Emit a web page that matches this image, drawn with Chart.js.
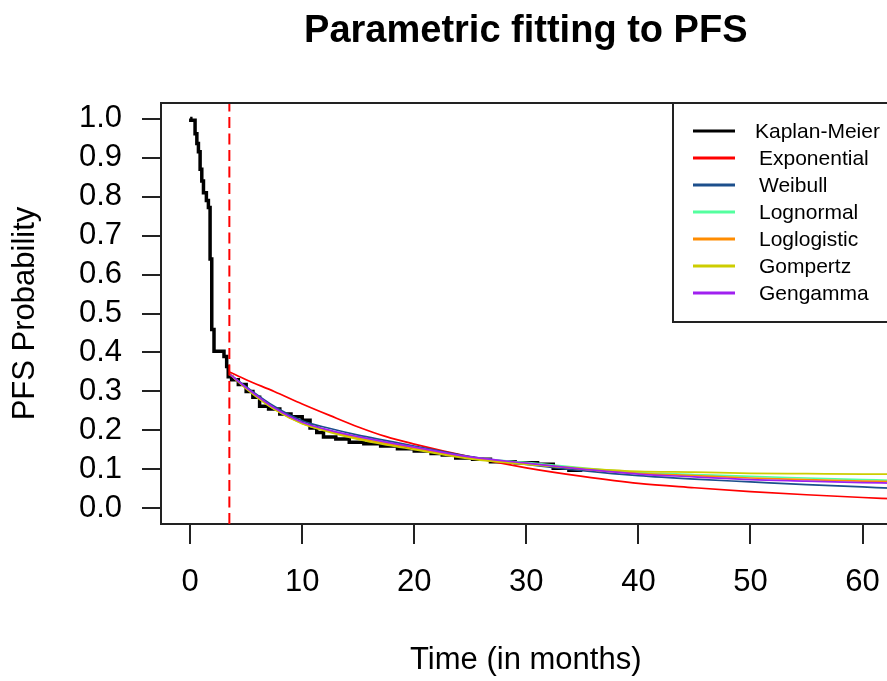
<!DOCTYPE html>
<html>
<head>
<meta charset="utf-8">
<script src="https://cdn.jsdelivr.net/npm/chart.js@4.4.1/dist/chart.umd.min.js"></script>
<style>
  html, body { margin: 0; padding: 0; background: #fff; overflow: hidden; }
  #wrap { width: 887px; height: 681px; overflow: hidden; }
</style>
</head>
<body>
<div id="wrap"><canvas id="myChart" width="900" height="681"></canvas></div>
<script>
// Kaplan-Meier steps (time in months, survival)
const kmTime = [0, 0.06, 0.44, 0.6, 0.74, 0.89, 1.04, 1.19, 1.45, 1.63, 1.78, 1.93, 2.13, 3.02, 3.26, 3.4,
  3.7, 4.3, 5.0, 5.6, 6.2, 7.0, 8.0, 9.0, 10.0, 10.7, 11.3, 11.9, 13.0, 14.2, 15.5, 17.0, 18.5, 20.0,
  21.5, 22.5, 23.7, 25.2, 26.8, 29.0, 31.0, 32.4, 33.8, 35.0];
const kmSurv = [1.0, 0.996, 0.961, 0.936, 0.915, 0.87, 0.84, 0.81, 0.79, 0.772, 0.64, 0.459, 0.403, 0.39, 0.364, 0.338,
  0.33, 0.318, 0.3, 0.285, 0.262, 0.255, 0.242, 0.235, 0.226, 0.206, 0.195, 0.183, 0.178, 0.17, 0.166, 0.16, 0.153, 0.147,
  0.141, 0.137, 0.129, 0.126, 0.12, 0.117, 0.113, 0.103, 0.098, 0.098];

// parametric fits, evaluated from the landmark on
const fitTime = [3.5, 5, 7.5, 10, 12.5, 15, 17.5, 20, 25, 30, 35, 40, 45, 50, 55, 60, 62.5];
const expSurv = [0.35, 0.33, 0.3, 0.268, 0.238, 0.209, 0.184, 0.165, 0.132, 0.104, 0.082, 0.064, 0.053, 0.043, 0.035, 0.028, 0.025];
const weibullSurv = [0.345, 0.312, 0.262, 0.225, 0.205, 0.188, 0.174, 0.16, 0.133, 0.113, 0.097, 0.084, 0.075, 0.068, 0.061, 0.055, 0.052];
const lognormalSurv = [0.345, 0.309, 0.256, 0.219, 0.198, 0.182, 0.168, 0.156, 0.131, 0.118, 0.104, 0.092, 0.087, 0.082, 0.078, 0.074, 0.072];
const loglogisticSurv = [0.345, 0.308, 0.255, 0.218, 0.197, 0.18, 0.166, 0.154, 0.129, 0.115, 0.101, 0.09, 0.084, 0.078, 0.074, 0.07, 0.069];
const gompertzSurv = [0.345, 0.307, 0.254, 0.217, 0.195, 0.177, 0.163, 0.151, 0.127, 0.113, 0.103, 0.095, 0.093, 0.09, 0.089, 0.088, 0.088];
const gengammaSurv = [0.345, 0.31, 0.258, 0.221, 0.2, 0.184, 0.17, 0.157, 0.132, 0.116, 0.101, 0.088, 0.081, 0.074, 0.07, 0.066, 0.065];

const seriesNames = ["Kaplan-Meier", "Exponential", "Weibull", "Lognormal", "Loglogistic", "Gompertz", "Gengamma"];
const seriesColors = ["#000000", "#ff0000", "#1c4f8c", "#54ff9f", "#ff8c00", "#cdcd00", "#a020f0"];

const xTicks = [0, 10, 20, 30, 40, 50, 60];
const yTicks = [0, 0.1, 0.2, 0.3, 0.4, 0.5, 0.6, 0.7, 0.8, 0.9, 1.0];
const cutoff = 3.5;
const xMin = -2.6, xMax = 62.5, yMin = -0.04, yMax = 1.04;

const FONT = '"Liberation Sans", Arial, sans-serif';
Chart.defaults.font.family = FONT;
Chart.defaults.color = "#000";

const toXY = (xs, ys) => xs.map((t, i) => ({ x: t, y: ys[i] }));

const fits = [expSurv, weibullSurv, lognormalSurv, loglogisticSurv, gompertzSurv, gengammaSurv];

const datasets = [
  {
    label: seriesNames[0],
    data: toXY(kmTime, kmSurv),
    borderColor: seriesColors[0],
    borderWidth: 3.5,
    stepped: true,
    pointRadius: 0,
    order: 10,
  },
];
fits.forEach((vals, i) => {
  datasets.push({
    label: seriesNames[i + 1],
    data: toXY(fitTime, vals),
    borderColor: seriesColors[i + 1],
    borderWidth: 1.7,
    cubicInterpolationMode: "monotone",
    pointRadius: 0,
    order: 6 - i,
  });
});
// landmark line
datasets.push({
  label: "cutoff",
  data: [{ x: cutoff, y: yMin }, { x: cutoff, y: yMax }],
  borderColor: "#ff0000",
  borderWidth: 2,
  borderDash: [11, 5.5],
  pointRadius: 0,
  order: 0,
});

// title, top border and the R style legend
const extras = {
  id: "extras",
  afterDraw(chart) {
    const { ctx, chartArea } = chart;
    ctx.save();
    ctx.strokeStyle = "#222";
    ctx.lineWidth = 2;
    ctx.beginPath();
    ctx.moveTo(chartArea.left - 1, chartArea.top);
    ctx.lineTo(chartArea.right, chartArea.top);
    ctx.stroke();

    ctx.fillStyle = "#000";
    ctx.font = "bold 38px " + FONT;
    ctx.textAlign = "center";
    ctx.textBaseline = "alphabetic";
    ctx.fillText("Parametric fitting to PFS", (chartArea.left + chartArea.right) / 2, 42);

    // legend box
    ctx.strokeRect(673, chartArea.top, 260, 219);
    ctx.font = "21px " + FONT;
    ctx.textAlign = "left";
    ctx.textBaseline = "middle";
    seriesNames.forEach((name, i) => {
      const y = 131 + i * 27;
      ctx.strokeStyle = seriesColors[i];
      ctx.lineWidth = 3;
      ctx.beginPath();
      ctx.moveTo(693, y);
      ctx.lineTo(735, y);
      ctx.stroke();
      ctx.fillText(name, i === 0 ? 755 : 759, y + 1);
    });
    ctx.restore();
  },
};

new Chart(document.getElementById("myChart"), {
  type: "line",
  data: { datasets },
  options: {
    responsive: false,
    animation: false,
    devicePixelRatio: 1,
    layout: { padding: { top: 103, right: 6, left: 0, bottom: 0 } },
    plugins: {
      legend: { display: false },
      tooltip: { enabled: false },
      title: { display: false },
    },
    scales: {
      x: {
        type: "linear",
        min: xMin,
        max: xMax,
        afterBuildTicks: (s) => { s.ticks = xTicks.map((v) => ({ value: v })); },
        afterFit: (s) => { s.height = 157; },
        ticks: { font: { size: 31 }, color: "#000", padding: 20, maxRotation: 0, autoSkip: false },
        grid: { drawOnChartArea: false, tickLength: 20, color: "#222", lineWidth: 2 },
        border: { display: true, color: "#222", width: 2 },
        title: { display: true, text: "Time (in months)", font: { size: 31 }, color: "#000", padding: { top: 0, bottom: 2 } },
      },
      y: {
        type: "linear",
        min: yMin,
        max: yMax,
        afterBuildTicks: (s) => { s.ticks = yTicks.map((v) => ({ value: v })); },
        afterFit: (s) => { s.width = 161; },
        ticks: { font: { size: 31 }, color: "#000", padding: 20, autoSkip: false, callback: (v) => v.toFixed(1) },
        grid: { drawOnChartArea: false, tickLength: 19, color: "#222", lineWidth: 2 },
        border: { display: true, color: "#222", width: 2 },
        title: { display: true, text: "PFS Probability", font: { size: 31 }, color: "#000", padding: { top: 7, bottom: 0 } },
      },
    },
  },
  plugins: [extras],
});
</script>
</body>
</html>
